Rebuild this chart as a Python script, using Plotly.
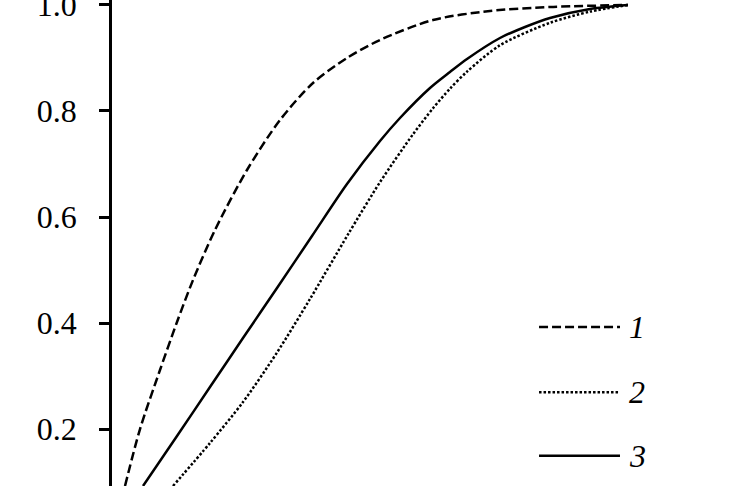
import plotly.graph_objects as go

# curve 1 (dashed)
x1 = [0.0252, 0.0543, 0.0930, 0.1260, 0.1570, 0.1996, 0.2616, 0.3256, 0.3895,
      0.4554, 0.5194, 0.6221, 0.7326, 0.8488, 1.0]
y1 = [0.0925, 0.2000, 0.3113, 0.4019, 0.4811, 0.5755, 0.6887, 0.7830, 0.8528,
      0.9000, 0.9340, 0.9717, 0.9887, 0.9962, 1.0]

# curve 2 (dotted)
x2 = [0.1182, 0.1899, 0.2539, 0.3198, 0.3837, 0.4574, 0.5194, 0.5833, 0.6221,
      0.6550, 0.6880, 0.7519, 0.8488, 0.9264, 1.0]
y2 = [0.0925, 0.1736, 0.2509, 0.3443, 0.4453, 0.5672, 0.6657, 0.7560, 0.8051,
      0.8421, 0.8742, 0.9240, 0.9664, 0.9875, 1.0]

# curve 3 (solid)
x3 = [0.0601, 0.1260, 0.1899, 0.2539, 0.3198, 0.3876, 0.4554, 0.5194, 0.5581,
      0.6163, 0.6550, 0.6880, 0.7519, 0.8004, 0.8488, 0.9264, 1.0]
y3 = [0.0925, 0.1868, 0.2792, 0.3717, 0.4660, 0.5642, 0.6623, 0.7434, 0.7868,
      0.8434, 0.8736, 0.8981, 0.9377, 0.9585, 0.9755, 0.9925, 1.0]

names = ["1", "2", "3"]
dashes = ["9px,4px", "2.5px,2px", "solid"]
y_ticks = [0.2, 0.4, 0.6, 0.8, 1.0]

FONT = "Liberation Serif, Times New Roman, serif"

fig = go.Figure()
for xs, ys, d in zip([x1, x2, x3], [y1, y2, y3], dashes):
    fig.add_trace(go.Scatter(x=xs, y=ys, mode="lines",
                             line=dict(color="black", width=2.5, dash=d,
                                       shape="spline", smoothing=0.8),
                             showlegend=False, hoverinfo="skip"))

# hand-made legend: long line samples with italic numbers
leg_y = [0.327, 0.193, 0.062]
for n, d, ly in zip(names, dashes, leg_y):
    fig.add_shape(type="line", xref="paper", yref="paper",
                  x0=0.691, x1=0.822, y0=ly, y1=ly,
                  line=dict(color="black", width=2.5, dash=d))
    fig.add_annotation(text="<i>%s</i>" % n, xref="paper", yref="paper",
                       x=0.834, y=ly, xanchor="left", yanchor="middle",
                       showarrow=False, font=dict(family=FONT, size=32, color="black"))

fig.update_layout(
    width=730, height=486,
    margin=dict(l=112, r=0, t=0, b=0),
    paper_bgcolor="white", plot_bgcolor="white",
    font=dict(family=FONT, size=32, color="black"),
    xaxis=dict(visible=False, range=[0, 1.1977]),
    yaxis=dict(range=[0.0925, 1.0094], tickvals=y_ticks,
               ticktext=["%.1f" % v for v in y_ticks],
               showgrid=False, zeroline=False, automargin=False,
               showline=True, linecolor="black", linewidth=2.5,
               ticks="outside", ticklen=10, tickwidth=2.5, tickcolor="black",
               ticklabelstandoff=16, ticklabeloverflow="allow"),
)

# page body has a default 8px margin; drop it so the figure sits at the corner
fig.write_html("out.html", config={"displayModeBar": False},
               post_script="document.body.style.margin='0';")
